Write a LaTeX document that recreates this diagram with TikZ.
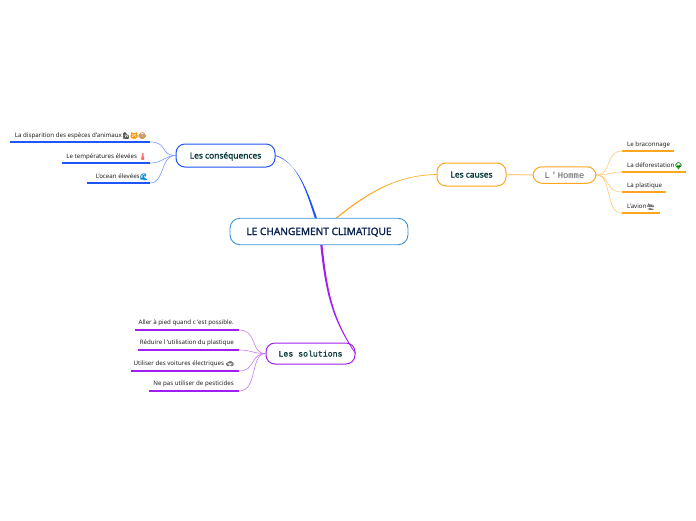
\documentclass[tikz,border=0pt]{standalone}
\usepackage{fontspec}
\setmainfont{Noto Sans}
\newfontfamily\boldfam[FakeBold=1.6]{Noto Sans}
\newfontfamily\monofam[Scale=1.001]{Liberation Mono}
\newfontfamily\monobold[FakeBold=1.2]{Liberation Mono}
\newfontfamily\emo[FakeBold=2.5]{Noto Emoji}
\usetikzlibrary{calc}
\definecolor{cblue}{HTML}{1F55F5}
\definecolor{corange}{HTML}{FFA51F}
\definecolor{cviolet}{HTML}{A01FF0}
\definecolor{croot}{HTML}{3F92D2}
\definecolor{ctxt}{HTML}{0B3B3B}
\definecolor{cnavy}{HTML}{0A2350}
\tikzset{
  x=1pt,y=-1pt,
  root/.style={draw=croot,line width=.9pt,rounded corners=10pt,fill=white,inner sep=0pt,minimum width=178pt,minimum height=26.5pt,text=cnavy,text height=7pt,text depth=0pt,font=\fontsize{10.1}{12}\selectfont\boldfam},
  branch/.style={draw=#1,line width=1pt,rounded corners=9pt,fill=white,inner sep=0pt,text=ctxt,text height=6pt,text depth=0pt},
  leaf/.style={inner sep=0pt,minimum height=12pt,font=\fontsize{6.15}{7}\selectfont,text=black!88},
  under/.style={line width=1.5pt,draw=#1},
  link/.style={line width=.6pt,draw=#1!60!white},
}
\newcommand{\emj}[2]{{\fontsize{6.4}{7}\selectfont\emo\textcolor{#1}{#2}}}
\begin{document}
\begin{tikzpicture}
\useasboundingbox (0,0) rectangle (696,520);
\node[branch=cblue,minimum width=99pt,minimum height=23pt,font=\fontsize{8.4}{10}\selectfont\boldfam] (cons) at (225.5,155.5) {Les conséquences};
\node[branch=corange,minimum width=69pt,minimum height=23pt,font=\fontsize{8.4}{10}\selectfont\boldfam] (causes) at (471.5,174.5) {Les causes};
\node[branch=corange,minimum width=63pt,minimum height=16.5pt,text=black!65,font=\fontsize{8.8}{10}\selectfont\monofam] (homme) at (564.5,175) {\spaceskip=1.3pt L ' Homme};
\node[branch=cviolet,minimum width=89pt,minimum height=21pt,font=\fontsize{8.2}{10}\selectfont\monobold] (sol) at (310.5,353.5) {Les solutions};
% main connectors, tapered: wide at the root, narrow at the branch
\coordinate (bluea) at (315,219);\coordinate (blueb) at (317.2,219);
\coordinate (orangea) at (334.3,219);\coordinate (orangeb) at (336,219);
\coordinate (violeta) at (320.2,244);\coordinate (violetb) at (322.4,244);
\fill[cblue] (bluea) .. controls (304.5,185) and (296,162) .. ($(cons.east)+(0,-.4)$) -- ($(cons.east)+(0,.4)$) .. controls (296,162.3) and (306,185) .. (blueb) -- cycle;
\fill[corange] (orangea) .. controls (365,194) and (395,175) .. ($(causes.west)+(0,-.35)$) -- ($(causes.west)+(0,.35)$) .. controls (395,175.3) and (366,195.2) .. (orangeb) -- cycle;
\fill[cviolet] (violeta) .. controls (325.5,295) and (332.5,320) .. ($(sol.east)+(-.4,0)$) -- ($(sol.east)+(.4,0)$) .. controls (334,320) and (327.5,295) .. (violetb) -- cycle;
\node[root] (rt) at (319,231.5) {LE CHANGEMENT CLIMATIQUE};
\draw[link=corange,line width=1pt] (causes.east) -- (homme.west);
% consequences leaves
\node[leaf,anchor=south east] (c1) at (146.5,142) {La disparition des espèces d'animaux\emj{black!70}{🦍}\emj{orange!85!yellow}{😸}\emj{brown!85}{🐵}};
\node[leaf,anchor=south east] (c2) at (147,163) {Le températures élevées \emj{red!60}{🌡}};
\node[leaf,anchor=south east] (c3) at (148,183) {L'ocean élevées\emj{cyan!70!blue}{🌊}};
\coordinate (c1a) at (10,142);\coordinate (c2a) at (62,163);\coordinate (c3a) at (87,183);
\coordinate (c1b) at (150,142);\coordinate (c2b) at (150,163);\coordinate (c3b) at (150,183);
\draw[under=cblue] (c1a) -- (c1b);
\draw[under=cblue] (c2a) -- (c2b);
\draw[under=cblue] (c3a) -- (c3b);
\draw[link=cblue] (cons.west) .. controls (160,155.5) and (168,142) .. (c1b);
\draw[link=cblue] (cons.west) .. controls (165,155.5) and (163,163) .. (c2b);
\draw[link=cblue] (cons.west) .. controls (160,155.5) and (165,183) .. (c3b);
% causes leaves
\node[leaf,anchor=south west] (h1) at (627,151) {Le braconnage};
\node[leaf,anchor=south west] (h2) at (627,172) {La déforestation\emj{green!55!black}{🌳}};
\node[leaf,anchor=south west] (h3) at (627,192) {La plastique};
\node[leaf,anchor=south west] (h4) at (627,213) {L'avion\emj{black!55}{🛬}};
\coordinate (h1a) at (622,151);\coordinate (h2a) at (622,172);\coordinate (h3a) at (622,192);\coordinate (h4a) at (622,213);
\coordinate (h1b) at (674,151);\coordinate (h2b) at (686,172);\coordinate (h3b) at (666,192);\coordinate (h4b) at (660,213);
\draw[under=corange] (h1a) -- (h1b);
\draw[under=corange] (h2a) -- (h2b);
\draw[under=corange] (h3a) -- (h3b);
\draw[under=corange] (h4a) -- (h4b);
\draw[link=corange] (homme.east) .. controls (612,175) and (605,151) .. (h1a);
\draw[link=corange] (homme.east) .. controls (610,175) and (610,172) .. (h2a);
\draw[link=corange] (homme.east) .. controls (610,175) and (605,192) .. (h3a);
\draw[link=corange] (homme.east) .. controls (612,175) and (605,213) .. (h4a);
% solutions leaves
\node[leaf,anchor=south east] (s1) at (234,329) {Aller à pied quand c 'est possible.};
\node[leaf,anchor=south east] (s2) at (234,349) {Réduire l 'utilisation du plastique};
\node[leaf,anchor=south east] (s3) at (234,370.5) {Utiliser des voitures électriques \emj{black!55}{🚗}};
\node[leaf,anchor=south east] (s4) at (234,390) {Ne pas utiliser de pesticides};
\coordinate (s1a) at (135,330);\coordinate (s2a) at (138,350);\coordinate (s3a) at (131,371);\coordinate (s4a) at (149,391);
\coordinate (s1b) at (239,330);\coordinate (s2b) at (239,350);\coordinate (s3b) at (239,371);\coordinate (s4b) at (239,391);
\draw[under=cviolet] (s1a) -- (s1b);
\draw[under=cviolet] (s2a) -- (s2b);
\draw[under=cviolet] (s3a) -- (s3b);
\draw[under=cviolet] (s4a) -- (s4b);
\draw[link=cviolet] (sol.west) .. controls (250,353.5) and (258,330) .. (s1b);
\draw[link=cviolet] (sol.west) .. controls (252,353.5) and (252,350) .. (s2b);
\draw[link=cviolet] (sol.west) .. controls (250,353.5) and (256,371) .. (s3b);
\draw[link=cviolet] (sol.west) .. controls (250,353.5) and (258,391) .. (s4b);
\end{tikzpicture}
\end{document}
